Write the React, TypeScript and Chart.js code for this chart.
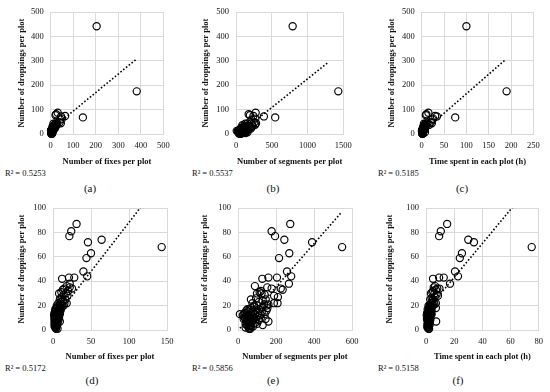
import React, { useEffect, useRef } from "react";
import { Chart, registerables } from "chart.js";

Chart.register(...registerables);

// ---- data (plots with droppings <= 100) ----
const droppings = [
  87, 81, 77, 74, 72, 68, 63, 59, 48, 44, 42, 43, 43, 38,
  36, 35, 34, 34, 33, 32, 31, 30, 30, 29, 28, 27, 26, 25, 25, 24, 23, 22, 22, 22, 21, 21, 20, 20,
  19, 19, 18, 18, 17, 17, 16, 16, 16, 15, 15, 15, 14, 14, 14, 13, 13, 13, 13, 12, 12, 12, 12, 11, 11, 11,
  10, 10, 10, 10, 9, 9, 9, 9, 8, 8, 8, 8, 7, 7, 7, 7, 6, 6, 6, 5, 5, 5, 5, 4, 4, 4, 3, 3, 3, 2, 2, 1, 1,
  14, 17, 20, 12, 9,
];
const fixes = [
  31, 24, 21.5, 64, 46, 143, 50, 44, 40, 45, 12, 21, 28, 22,
  18, 22, 15, 25, 13, 20, 11, 17, 8, 14, 19, 12, 10, 16, 9, 13, 11, 18, 7, 15, 10, 9, 14, 12,
  6, 9, 11, 5, 8, 4, 7, 10, 6, 5, 9, 3, 8, 6, 4, 2, 7, 5, 9, 3, 6, 8, 4, 5, 7, 3,
  6, 4, 8, 2, 5, 7, 3, 6, 4, 5, 3, 7, 4, 6, 9, 2, 5, 3, 4, 4, 6, 3, 2, 3, 5, 4, 3, 2, 5, 4, 3, 4, 6,
  2, 3, 5, 1.5, 2,
];
const segments = [
  275, 177, 195, 244, 390, 548, 270, 216, 258, 280, 128, 205, 160, 268,
  89, 154, 177, 225, 235, 120, 114, 124, 100, 140, 190, 210, 95, 68, 146, 130, 110, 208, 189, 76, 160, 138, 150, 100,
  130, 85, 155, 70, 110, 60, 45, 150, 95, 80, 125, 55, 40, 105, 70, 10, 90, 30, 140, 65, 50, 115, 75, 45, 100, 60,
  85, 35, 120, 55, 70, 145, 40, 95, 60, 80, 50, 110, 45, 65, 160, 75, 90, 55, 70, 40, 60, 100, 50, 65, 45, 130, 55, 80, 70, 40, 60, 58, 65,
  35, 50, 85, 25, 30,
];
const hours = [
  15, 10.5, 9.3, 30, 34, 75, 25.5, 24, 20.6, 22.7, 5, 9.3, 12.6, 17,
  6.5, 5.5, 8, 9.5, 7, 5, 4.5, 6, 3.5, 7.5, 8.5, 6, 4, 3, 5, 4.5, 5.5, 7, 3.5, 4, 3, 6, 5, 2.5,
  3, 4, 7, 2, 3.5, 2.5, 3, 4, 2, 2.5, 3, 1.5, 3, 2, 2.5, 1, 3.5, 2, 4, 1.5, 2.5, 3, 2, 2, 3, 1.5,
  2.5, 2, 3, 1, 2, 3, 1.5, 2.5, 2, 2.5, 1, 3, 2, 2.5, 7.2, 1.5, 2, 1.5, 2, 1.5, 2.5, 1, 1.5, 2, 1.5, 2.5, 1, 1.5, 2, 1.5, 1, 1.8, 2.2,
  0.8, 1.2, 1.8, 0.5, 0.7,
];

// ---- the two plots with more than 100 droppings (top row only) ----
const outlierDroppings = [442, 175];
const outlierFixes = [204, 382];
const outlierSegments = [792, 1430];
const outlierHours = [100, 190];

// ---- panel labels / axes ----
const panelTags = ["(a)", "(b)", "(c)", "(d)", "(e)", "(f)"];
const r2Values = ["0.5253", "0.5537", "0.5185", "0.5172", "0.5856", "0.5158"];
const xTitles = [
  "Number of fixes per plot",
  "Number of segments per plot",
  "Time spent in each plot (h)",
  "Number of fixes per plot",
  "Number of segments per plot",
  "Time spent in each plot (h)",
];
const xMaxes = [500, 1500, 250, 150, 600, 80];
const xSteps = [100, 500, 50, 50, 200, 20];
const yMaxes = [500, 500, 500, 100, 100, 100];
const ySteps = [100, 100, 100, 20, 20, 20];
const yTitle = "Number of droppings per plot";

// ---- linear trendlines ----
const trendSlopes = [0.76, 0.235, 1.6, 0.805, 0.178, 1.39];
const trendIntercepts = [18, -9, 5, 7.8, -0.4, 15.4];
const trendFrom = [1, 40, 0.5, 1.5, 10, 0.5];
const trendTo = [382, 1276, 188, 143, 545, 75];

// ---- layout (page pixels) ----
const boxes = [
  { x: 17, y: 0, w: 163, h: 167 },
  { x: 201, y: 0, w: 161, h: 167 },
  { x: 387, y: 0, w: 163, h: 167 },
  { x: 17, y: 196, w: 165, h: 166 },
  { x: 200, y: 196, w: 168, h: 166 },
  { x: 385, y: 196, w: 165, h: 166 },
];
const areas = [
  { l: 50.7, t: 10.5, r: 163.3, b: 134 },
  { l: 236, t: 10.5, r: 343.3, b: 134 },
  { l: 421.7, t: 10.5, r: 533.4, b: 134 },
  { l: 53, t: 206, r: 167, b: 330 },
  { l: 238, t: 206.5, r: 352, b: 330 },
  { l: 426, t: 206, r: 539, b: 330 },
];
const r2Pos = [
  { x: 5, y: 173.5 },
  { x: 192, y: 173.5 },
  { x: 378, y: 173.5 },
  { x: 5, y: 368.5 },
  { x: 192, y: 368.5 },
  { x: 378, y: 368.5 },
];
const tagPos = [
  { x: 90, y: 189 },
  { x: 273, y: 189 },
  { x: 462, y: 189 },
  { x: 92, y: 381 },
  { x: 273, y: 381 },
  { x: 458, y: 381 },
];

const FONT = "'Liberation Serif', 'Times New Roman', serif";
const TXT = "#111";
const GRID = "#d9d9d9";
const FS = 8.5;

function seriesFor(i: number): { x: number; y: number }[] {
  const xsBase = i % 3 === 0 ? fixes : i % 3 === 1 ? segments : hours;
  const xsOut = i % 3 === 0 ? outlierFixes : i % 3 === 1 ? outlierSegments : outlierHours;
  const pts = droppings.map((d, k) => ({ x: xsBase[k], y: d }));
  if (i < 3) {
    outlierDroppings.forEach((d, k) => pts.push({ x: xsOut[k], y: d }));
  }
  return pts;
}

function Panel({ i }: { i: number }) {
  const ref = useRef<HTMLCanvasElement | null>(null);
  const box = boxes[i];
  const area = areas[i];
  useEffect(() => {
    const c = ref.current;
    if (!c) return;
    const yW = area.l - box.x;
    const xH = box.y + box.h - area.b;
    const trend = [trendFrom[i], trendTo[i]].map((x) => ({
      x,
      y: trendSlopes[i] * x + trendIntercepts[i],
    }));
    const chart = new Chart(c, {
      type: "scatter",
      data: {
        datasets: [
          {
            data: trend,
            showLine: true,
            borderColor: "#000",
            borderWidth: 1.6,
            borderDash: [1.6, 2],
            pointRadius: 0,
            fill: false,
            order: 0,
          } as any,
          {
            data: seriesFor(i),
            pointStyle: "circle",
            pointRadius: 3.6,
            borderColor: "#000",
            backgroundColor: "rgba(0,0,0,0)",
            borderWidth: 1.15,
            clip: false,
            order: 1,
          } as any,
        ],
      },
      options: {
        animation: false,
        responsive: false,
        events: [],
        layout: {
          padding: {
            left: 0,
            top: area.t - box.y,
            right: box.x + box.w - area.r,
            bottom: 0,
          },
        },
        plugins: { legend: { display: false }, tooltip: { enabled: false } },
        scales: {
          x: {
            type: "linear",
            min: 0,
            max: xMaxes[i],
            ticks: {
              stepSize: xSteps[i],
              padding: 7,
              maxRotation: 0,
              autoSkip: false,
              color: TXT,
              font: { family: FONT, size: FS },
              callback: (v: any) => String(v),
            },
            grid: { color: GRID, drawTicks: false, lineWidth: 1 },
            border: { color: GRID },
            title: {
              display: true,
              text: xTitles[i],
              color: TXT,
              padding: 0,
              font: { family: FONT, size: FS, weight: "bold" },
            },
            afterFit: (s: any) => {
              s.height = xH;
            },
          },
          y: {
            type: "linear",
            min: 0,
            max: yMaxes[i],
            ticks: {
              stepSize: ySteps[i],
              padding: 7,
              autoSkip: false,
              color: TXT,
              font: { family: FONT, size: FS },
              callback: (v: any) => String(v),
            },
            grid: { color: GRID, drawTicks: false, lineWidth: 1 },
            border: { color: GRID },
            title: {
              display: true,
              text: yTitle,
              color: TXT,
              padding: 0,
              font: { family: FONT, size: FS, weight: "bold" },
            },
            afterFit: (s: any) => {
              s.width = yW;
            },
          },
        },
      } as any,
    });
    return () => chart.destroy();
  }, [i]);
  return (
    <canvas
      ref={ref}
      width={box.w}
      height={box.h}
      style={{
        position: "absolute",
        left: box.x,
        top: box.y,
        width: box.w,
        height: box.h,
      }}
    />
  );
}

export default function App() {
  return (
    <div
      style={{
        position: "absolute",
        left: 0,
        top: 0,
        width: 550,
        height: 392,
        background: "#fff",
        overflow: "hidden",
        fontFamily: FONT,
        color: TXT,
      }}
    >
      {panelTags.map((_, i) => (
        <Panel key={i} i={i} />
      ))}
      {r2Values.map((v, i) => (
        <div
          key={"r" + i}
          style={{
            position: "absolute",
            left: r2Pos[i].x,
            top: r2Pos[i].y - FS * 0.6,
            fontSize: FS,
            lineHeight: 1.2,
            whiteSpace: "nowrap",
          }}
        >
          {"R² = " + v}
        </div>
      ))}
      {panelTags.map((t, i) => (
        <div
          key={"t" + i}
          style={{
            position: "absolute",
            left: tagPos[i].x - 20,
            width: 40,
            textAlign: "center",
            top: tagPos[i].y - 11 * 0.6,
            fontSize: 11,
            lineHeight: 1.2,
            whiteSpace: "nowrap",
          }}
        >
          {t}
        </div>
      ))}
    </div>
  );
}
